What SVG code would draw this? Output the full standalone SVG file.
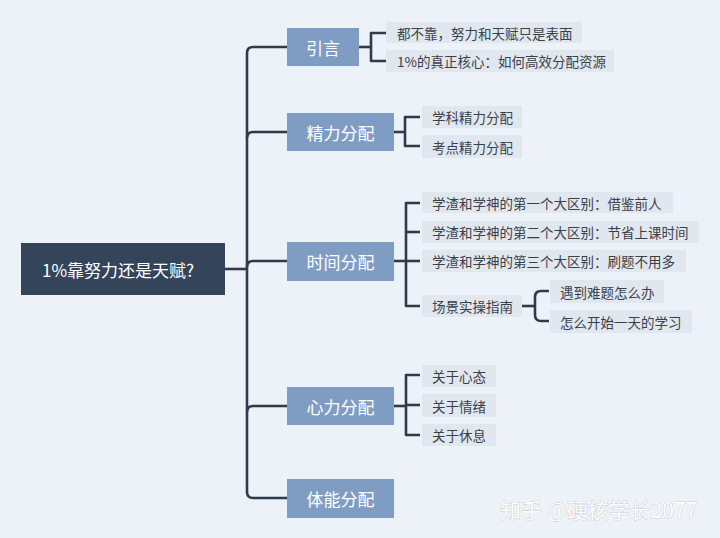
<svg xmlns="http://www.w3.org/2000/svg" width="720" height="538" viewBox="0 0 720 538">
<style>
.bg{fill:#EDF2F8}
.root{fill:#34445A}
.main{fill:#7F9DC2}
.leaf{fill:#E1E7EF}
.c{fill:none;stroke:#2F3A4A;stroke-width:2.6;stroke-linejoin:round;stroke-linecap:butt}
text{font-family:"Noto Sans CJK SC","Noto Sans",sans-serif;dominant-baseline:central}
.tr{fill:#FFFFFF;font-size:17px}
.tm{fill:#FFFFFF;font-size:17px;text-anchor:middle}
.tl{fill:#3A3F48;font-size:13.5px}
.wm{fill:#FFFFFF;stroke:#A3A9B1;stroke-width:0.5;paint-order:stroke;font-size:21px}
</style>
<rect class="bg" x="0" y="0" width="720" height="538"/>
<g id="connectors">
<path class="c" d="M225 269 H247"/>
<path class="c" d="M287 47 H253 Q247 47 247 53 V492 Q247 498 253 498 H287"/>
<path class="c" d="M247 138 Q247 132 253 132 H287"/>
<path class="c" d="M247 267 Q247 261 253 261 H287"/>
<path class="c" d="M247 412 Q247 406 253 406 H287"/>
<path class="c" d="M359 47 H371"/>
<path class="c" d="M387 33 H371 V61 H387"/>
<path class="c" d="M394 132 H405"/>
<path class="c" d="M420 117 H405 V146 H420"/>
<path class="c" d="M394 261 H406"/>
<path class="c" d="M420 203 H406 V306 H420"/>
<path class="c" d="M406 232 H420"/>
<path class="c" d="M406 261 H420"/>
<path class="c" d="M522 306 H535"/>
<path class="c" d="M549 291 H541 Q535 291 535 297 V315 Q535 321 541 321 H549"/>
<path class="c" d="M394 406 H406"/>
<path class="c" d="M420 375 H406 V435 H420"/>
<path class="c" d="M406 405 H420"/>
</g>
<g id="root"><rect class="root" x="21" y="243" width="204" height="52"/><text class="tr" x="42" y="269">1%靠努力还是天赋?</text></g>
<g id="n-yinyan"><rect class="main" x="287" y="28" width="72" height="38"/><text class="tm" x="323" y="47">引言</text></g>
<g id="n-jingli"><rect class="main" x="287" y="113" width="107" height="38"/><text class="tm" x="340.5" y="132">精力分配</text></g>
<g id="n-shijian"><rect class="main" x="287" y="242" width="107" height="39"/><text class="tm" x="340.5" y="261.5">时间分配</text></g>
<g id="n-xinli"><rect class="main" x="287" y="387" width="107" height="38"/><text class="tm" x="340.5" y="406">心力分配</text></g>
<g id="n-tineng"><rect class="main" x="287" y="479" width="107" height="39"/><text class="tm" x="340.5" y="498.5">体能分配</text></g>
<g id="l1"><rect class="leaf" x="386" y="22" width="196" height="21"/><text class="tl" x="397" y="32.5">都不靠，努力和天赋只是表面</text></g>
<g id="l2"><rect class="leaf" x="386" y="50" width="228" height="22"/><text class="tl" x="397" y="61">1%的真正核心：如何高效分配资源</text></g>
<g id="l3"><rect class="leaf" x="422" y="106" width="100" height="22"/><text class="tl" x="432" y="117">学科精力分配</text></g>
<g id="l4"><rect class="leaf" x="422" y="135" width="100" height="23"/><text class="tl" x="432" y="146.5">考点精力分配</text></g>
<g id="l5"><rect class="leaf" x="422" y="192" width="251" height="21"/><text class="tl" x="432" y="202.5">学渣和学神的第一个大区别：借鉴前人</text></g>
<g id="l6"><rect class="leaf" x="422" y="221" width="277" height="22"/><text class="tl" x="432" y="232">学渣和学神的第二个大区别：节省上课时间</text></g>
<g id="l7"><rect class="leaf" x="422" y="250" width="264" height="22"/><text class="tl" x="432" y="261">学渣和学神的第三个大区别：刷题不用多</text></g>
<g id="l8"><rect class="leaf" x="422" y="295" width="100" height="22"/><text class="tl" x="432" y="306">场景实操指南</text></g>
<g id="l9"><rect class="leaf" x="550" y="280" width="114" height="23"/><text class="tl" x="560" y="291.5">遇到难题怎么办</text></g>
<g id="l10"><rect class="leaf" x="550" y="310" width="142" height="23"/><text class="tl" x="560" y="321.5">怎么开始一天的学习</text></g>
<g id="l11"><rect class="leaf" x="422" y="365" width="74" height="22"/><text class="tl" x="432" y="376">关于心态</text></g>
<g id="l12"><rect class="leaf" x="422" y="394" width="74" height="23"/><text class="tl" x="432" y="405.5">关于情绪</text></g>
<g id="l13"><rect class="leaf" x="422" y="424" width="74" height="22"/><text class="tl" x="432" y="435">关于休息</text></g>
<text class="wm" x="500" y="509">知乎 @硬核学长2077</text>
</svg>
